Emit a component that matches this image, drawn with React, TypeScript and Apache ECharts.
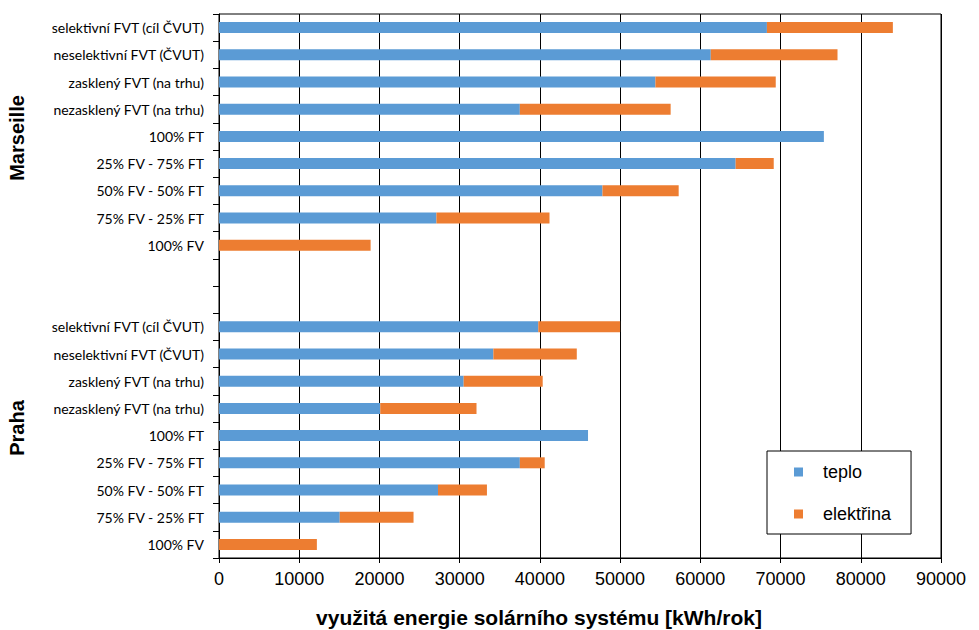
import React, { useEffect, useRef } from "react";
import * as echarts from "echarts";

const categories = [
  "selektivní FVT (cíl ČVUT)",
  "neselektivní FVT (ČVUT)",
  "zasklený FVT (na trhu)",
  "nezasklený FVT (na trhu)",
  "100% FT",
  "25% FV - 75% FT",
  "50% FV - 50% FT",
  "75% FV - 25% FT",
  "100% FV",
  "",
  " ",
  "selektivní FVT (cíl ČVUT)",
  "neselektivní FVT (ČVUT)",
  "zasklený FVT (na trhu)",
  "nezasklený FVT (na trhu)",
  "100% FT",
  "25% FV - 75% FT",
  "50% FV - 50% FT",
  "75% FV - 25% FT",
  "100% FV",
];

const seriesNames = ["teplo", "elektřina"];

// Marseille (first 9), two empty rows, Praha (last 9)
const teplo = [
  68300, 61300, 54400, 37500, 75400, 64400, 47800, 27100, 0,
  null, null,
  39800, 34200, 30500, 20100, 46000, 37500, 27300, 15050, 0,
];
const elektrina = [
  15700, 15800, 15000, 18800, 0, 4750, 9500, 14100, 18900,
  null, null,
  10200, 10400, 9850, 12000, 0, 3100, 6100, 9200, 12200,
];

const xTicks = { min: 0, max: 90000, interval: 10000 };
const groupLabels = ["Marseille", "Praha"];
const axisTitle = "využitá energie solárního systému [kWh/rok]";

export default function App() {
  const ref = useRef<HTMLDivElement>(null);
  useEffect(() => {
    if (!ref.current) return;
    const chart = echarts.init(ref.current, null, { renderer: "svg" });
    chart.setOption({
      animation: false,
      backgroundColor: "#fff",
      grid: {
        left: 219,
        right: 38,
        top: 14,
        bottom: 72,
        show: true,
        borderColor: "#000",
        borderWidth: 1,
      },
      legend: {
        orient: "vertical",
        left: 767,
        top: 451,
        data: seriesNames,
        icon: "rect",
        itemWidth: 9,
        itemHeight: 9,
        itemGap: 24,
        padding: [12, 20, 11, 27],
        borderColor: "#000",
        borderWidth: 1,
        backgroundColor: "#fff",
        textStyle: {
          fontFamily: "Liberation Sans",
          fontSize: 18,
          color: "#000",
          padding: [0, 0, 0, 15],
        },
      },
      xAxis: {
        type: "value",
        min: xTicks.min,
        max: xTicks.max,
        interval: xTicks.interval,
        axisLine: { show: true, lineStyle: { color: "#000" } },
        axisTick: { show: true, length: 5, lineStyle: { color: "#000" } },
        axisLabel: {
          fontFamily: "Liberation Sans",
          fontSize: 18,
          color: "#000",
          margin: 12,
          formatter: (v: number) => String(v),
        },
        splitLine: { show: true, lineStyle: { color: "#000", width: 1 } },
      },
      yAxis: {
        type: "category",
        inverse: true,
        data: categories,
        axisLine: { show: true, lineStyle: { color: "#000" } },
        axisTick: { show: true, length: 6, interval: 0, lineStyle: { color: "#000" } },
        axisLabel: {
          fontFamily: "Lato",
          fontSize: 14,
          color: "#000",
          margin: 15,
          interval: 0,
        },
        splitLine: { show: false },
      },
      series: [
        {
          name: seriesNames[0],
          type: "bar",
          stack: "total",
          data: teplo,
          barWidth: 11,
          itemStyle: { color: "#5B9BD5" },
        },
        {
          name: seriesNames[1],
          type: "bar",
          stack: "total",
          data: elektrina,
          barWidth: 11,
          itemStyle: { color: "#ED7D31" },
        },
      ],
      graphic: [
        {
          type: "text",
          x: 17,
          y: 138,
          rotation: Math.PI / 2,
          style: {
            text: groupLabels[0],
            font: "bold 20px 'Liberation Sans'",
            fill: "#000",
            align: "center",
            verticalAlign: "middle",
          },
        },
        {
          type: "text",
          x: 17,
          y: 428,
          rotation: Math.PI / 2,
          style: {
            text: groupLabels[1],
            font: "bold 20px 'Liberation Sans'",
            fill: "#000",
            align: "center",
            verticalAlign: "middle",
          },
        },
        {
          type: "text",
          x: 539,
          y: 617,
          style: {
            text: axisTitle,
            font: "bold 21px 'Liberation Sans'",
            fill: "#000",
            align: "center",
            verticalAlign: "middle",
          },
        },
      ],
    });
    return () => chart.dispose();
  }, []);
  return <div ref={ref} style={{ width: 979, height: 630, position: "absolute", left: 0, top: 0 }} />;
}
